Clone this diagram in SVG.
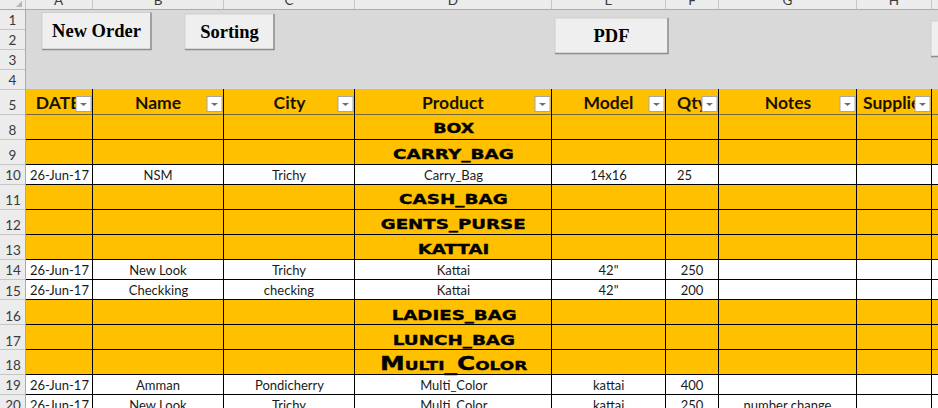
<svg xmlns="http://www.w3.org/2000/svg" xmlns:xlink="http://www.w3.org/1999/xlink" width="938" height="408" viewBox="0 0 938 408">
<style>
.lbl{font-family:Lato,"Liberation Sans",sans-serif;font-size:13.5px;fill:#3a3a3a;text-anchor:middle}
.btxt{font-family:"Liberation Serif",serif;font-weight:bold;font-size:18.5px;text-anchor:middle;fill:#000}
.hd{font-family:Lato,"Liberation Sans",sans-serif;font-weight:bold;font-size:17.5px;text-anchor:middle;fill:#1a1200}
.cat{font-family:"DejaVu Sans","Liberation Sans",sans-serif;font-weight:bold;font-size:13.5px;text-anchor:middle;fill:#000;stroke:#000;stroke-width:0.35}
.d{font-family:Lato,"Liberation Sans",sans-serif;font-size:13px;text-anchor:middle;fill:#1a1a1a}
.ds{font-family:Lato,"Liberation Sans",sans-serif;font-size:13px;fill:#1a1a1a}
.y{fill:#ffc000}
.w{fill:#fff}
.g{stroke:#000;stroke-width:1;fill:none}
.hs{stroke:#c6c6c6;stroke-width:1}
.bf{fill:#efefef;stroke:#cfcfcf;stroke-width:1}
.bs{stroke:#8e8e8e;stroke-width:1.5;fill:none}
</style>
<defs>
<g id="dd">
<rect x="0.5" y="0.5" width="15" height="15" fill="#fff" stroke="#a6a6a6"/>
<polygon points="4.5,7 11.5,7 8,10" fill="#6f6f6f"/>
</g>
</defs>

<g id="sheet-bg">
<rect x="0" y="0" width="938" height="408" fill="#d9d9d9"/>
<rect x="0" y="0" width="938" height="9" fill="#ececec"/>
<rect x="0" y="0" width="25" height="408" fill="#ececec"/>
<polygon points="22,1 22,7 16,7" fill="#b5b5b5"/>
</g>

<g id="col-headers">
<line x1="0" y1="9.5" x2="938" y2="9.5" stroke="#ababab"/>
<g stroke="#c6c6c6">
<line x1="25.5" y1="0" x2="25.5" y2="9"/>
<line x1="92.5" y1="0" x2="92.5" y2="9"/>
<line x1="223.5" y1="0" x2="223.5" y2="9"/>
<line x1="354.5" y1="0" x2="354.5" y2="9"/>
<line x1="551.5" y1="0" x2="551.5" y2="9"/>
<line x1="665.5" y1="0" x2="665.5" y2="9"/>
<line x1="718.5" y1="0" x2="718.5" y2="9"/>
<line x1="856.5" y1="0" x2="856.5" y2="9"/>
<line x1="931.5" y1="0" x2="931.5" y2="9"/>
</g>
<g class="lbl">
<text x="58.5" y="4.5">A</text>
<text x="158" y="4.5">B</text>
<text x="289" y="4.5">C</text>
<text x="453" y="4.5">D</text>
<text x="608.5" y="4.5">E</text>
<text x="692" y="4.5">F</text>
<text x="787.5" y="4.5">G</text>
<text x="894" y="4.5">H</text>
</g>
</g>

<g id="row-headers">
<line x1="25.5" y1="9" x2="25.5" y2="408" stroke="#ababab"/>
<g class="hs">
<line x1="0" y1="29.5" x2="25" y2="29.5"/>
<line x1="0" y1="49.5" x2="25" y2="49.5"/>
<line x1="0" y1="69.5" x2="25" y2="69.5"/>
<line x1="0" y1="89.5" x2="25" y2="89.5"/>
<line x1="0" y1="114.5" x2="25" y2="114.5"/>
<line x1="0" y1="139.5" x2="25" y2="139.5"/>
<line x1="0" y1="164.5" x2="25" y2="164.5"/>
<line x1="0" y1="184.5" x2="25" y2="184.5"/>
<line x1="0" y1="209.5" x2="25" y2="209.5"/>
<line x1="0" y1="234.5" x2="25" y2="234.5"/>
<line x1="0" y1="259.5" x2="25" y2="259.5"/>
<line x1="0" y1="279.5" x2="25" y2="279.5"/>
<line x1="0" y1="299.5" x2="25" y2="299.5"/>
<line x1="0" y1="324.5" x2="25" y2="324.5"/>
<line x1="0" y1="349.5" x2="25" y2="349.5"/>
<line x1="0" y1="374.5" x2="25" y2="374.5"/>
<line x1="0" y1="394.5" x2="25" y2="394.5"/>
</g>
<g class="lbl">
<text x="12.5" y="25">1</text>
<text x="12.5" y="45">2</text>
<text x="12.5" y="65">3</text>
<text x="12.5" y="85">4</text>
<text x="12.5" y="109.5">5</text>
<text x="12.5" y="134.5">8</text>
<text x="12.5" y="159.5">9</text>
<text x="13" y="179.5">10</text>
<text x="13" y="204.5">11</text>
<text x="13" y="229.5">12</text>
<text x="13" y="254.5">13</text>
<text x="13" y="274.5">14</text>
<text x="13" y="295.5">15</text>
<text x="13" y="320.5">16</text>
<text x="13" y="345.5">17</text>
<text x="13" y="369.5">18</text>
<text x="13" y="389.5">19</text>
<text x="13" y="409.5">20</text>
</g>
</g>

<g id="btn-new-order">
<rect class="bf" x="42" y="12.5" width="109" height="37"/>
<polyline class="bs" points="42,49.5 151,49.5 151,12.5"/>
<text class="btxt" x="96.5" y="36.7">New Order</text>
</g>
<g id="btn-sorting">
<rect class="bf" x="185" y="14" width="89" height="36"/>
<polyline class="bs" points="185,49.5 274,49.5 274,14"/>
<text class="btxt" x="229.5" y="37.5">Sorting</text>
</g>
<g id="btn-pdf">
<rect class="bf" x="555" y="18" width="113" height="36"/>
<polyline class="bs" points="555,53.5 668,53.5 668,18"/>
<text class="btxt" x="611.5" y="42.3">PDF</text>
</g>
<g id="btn-partial">
<rect class="bf" x="931" y="21" width="10" height="36"/>
<line class="bs" x1="931" y1="56.5" x2="938" y2="56.5"/>
</g>

<g id="fills">
<rect class="y" x="26" y="89" width="912" height="25"/>
<rect class="y" x="26" y="114" width="912" height="50"/>
<rect class="w" x="26" y="164" width="912" height="20"/>
<rect class="y" x="26" y="184" width="912" height="75"/>
<rect class="w" x="26" y="259" width="912" height="41"/>
<rect class="y" x="26" y="300" width="912" height="74"/>
<rect class="w" x="26" y="374" width="912" height="34"/>
</g>

<g id="grid">
<line x1="26" y1="114.5" x2="938" y2="114.5" stroke="#7a6a3a"/>
<g class="g">
<line x1="26" y1="139.5" x2="938" y2="139.5"/>
<line x1="26" y1="164.5" x2="938" y2="164.5"/>
<line x1="26" y1="184.5" x2="938" y2="184.5"/>
<line x1="26" y1="209.5" x2="938" y2="209.5"/>
<line x1="26" y1="234.5" x2="938" y2="234.5"/>
<line x1="26" y1="259.5" x2="938" y2="259.5"/>
<line x1="26" y1="279.5" x2="938" y2="279.5"/>
<line x1="26" y1="299.5" x2="938" y2="299.5"/>
<line x1="26" y1="324.5" x2="938" y2="324.5"/>
<line x1="26" y1="349.5" x2="938" y2="349.5"/>
<line x1="26" y1="374.5" x2="938" y2="374.5"/>
<line x1="26" y1="394.5" x2="938" y2="394.5"/>
<line x1="92.5" y1="89" x2="92.5" y2="408"/>
<line x1="223.5" y1="89" x2="223.5" y2="408"/>
<line x1="354.5" y1="89" x2="354.5" y2="408"/>
<line x1="551.5" y1="89" x2="551.5" y2="408"/>
<line x1="665.5" y1="89" x2="665.5" y2="408"/>
<line x1="718.5" y1="89" x2="718.5" y2="408"/>
<line x1="856.5" y1="89" x2="856.5" y2="408"/>
<line x1="931.5" y1="89" x2="931.5" y2="408"/>
</g>
</g>

<g id="header-row">
<text class="hd" x="58" y="108.5">DATE</text>
<text class="hd" x="158" y="108.5">Name</text>
<text class="hd" x="289.5" y="108.5">City</text>
<text class="hd" x="453" y="108.5">Product</text>
<text class="hd" x="608.5" y="108.5">Model</text>
<text class="hd" x="692" y="108.5">Qty</text>
<text class="hd" x="788" y="108.5">Notes</text>
<text class="hd" x="895" y="108.5">Supplier</text>
<use xlink:href="#dd" x="75.5" y="96"/>
<use xlink:href="#dd" x="206.5" y="96"/>
<use xlink:href="#dd" x="337.5" y="96"/>
<use xlink:href="#dd" x="534.5" y="96"/>
<use xlink:href="#dd" x="648.5" y="96"/>
<use xlink:href="#dd" x="701.5" y="96"/>
<use xlink:href="#dd" x="839.5" y="96"/>
<use xlink:href="#dd" x="914.5" y="96"/>
</g>

<g id="categories">
<text class="cat" x="453.8" y="133.3" textLength="41" lengthAdjust="spacingAndGlyphs">BOX</text>
<text class="cat" x="453.4" y="159" textLength="121" lengthAdjust="spacingAndGlyphs">CARRY_BAG</text>
<text class="cat" x="453.4" y="204" textLength="108.7" lengthAdjust="spacingAndGlyphs">CASH_BAG</text>
<text class="cat" x="453.2" y="229" textLength="145" lengthAdjust="spacingAndGlyphs">GENTS_PURSE</text>
<text class="cat" x="453.5" y="254" textLength="71.6" lengthAdjust="spacingAndGlyphs">KATTAI</text>
<text class="cat" x="454.2" y="319.5" textLength="125" lengthAdjust="spacingAndGlyphs">LADIES_BAG</text>
<text class="cat" x="453.9" y="344.5" textLength="122.3" lengthAdjust="spacingAndGlyphs">LUNCH_BAG</text>
<text class="cat" x="453.7" y="369.5" textLength="147.3" lengthAdjust="spacingAndGlyphs" style="font-size:19px;font-variant:small-caps">Multi_Color</text>
</g>

<g id="row-10">
<text class="ds" x="30" y="179.5">26-Jun-17</text>
<text class="d" x="158" y="179.5">NSM</text>
<text class="d" x="289" y="179.5">Trichy</text>
<text class="d" x="453.5" y="179.5">Carry_Bag</text>
<text class="d" x="608.5" y="179.5">14x16</text>
<text class="d" x="684.5" y="179.5">25</text>
</g>
<g id="row-14">
<text class="ds" x="30" y="274.5">26-Jun-17</text>
<text class="d" x="158" y="274.5">New Look</text>
<text class="d" x="289" y="274.5">Trichy</text>
<text class="d" x="453.5" y="274.5">Kattai</text>
<text class="d" x="608.5" y="274.5">42"</text>
<text class="d" x="692" y="274.5">250</text>
</g>
<g id="row-15">
<text class="ds" x="30" y="295">26-Jun-17</text>
<text class="d" x="158.5" y="295">Checkking</text>
<text class="d" x="289" y="295">checking</text>
<text class="d" x="453.5" y="295">Kattai</text>
<text class="d" x="608.5" y="295">42"</text>
<text class="d" x="692" y="295">200</text>
</g>
<g id="row-19">
<text class="ds" x="30" y="389.5">26-Jun-17</text>
<text class="d" x="158" y="389.5">Amman</text>
<text class="d" x="289.5" y="389.5">Pondicherry</text>
<text class="d" x="453.8" y="389.5">Multi_Color</text>
<text class="d" x="608.7" y="389.5">kattai</text>
<text class="d" x="692" y="389.5">400</text>
</g>
<g id="row-20">
<text class="ds" x="30" y="409.5">26-Jun-17</text>
<text class="d" x="158" y="409.5">New Look</text>
<text class="d" x="289" y="409.5">Trichy</text>
<text class="d" x="453.8" y="409.5">Multi_Color</text>
<text class="d" x="608.7" y="409.5">kattai</text>
<text class="d" x="692" y="409.5">250</text>
<text class="d" x="787.5" y="409.5">number change</text>
</g>
</svg>
